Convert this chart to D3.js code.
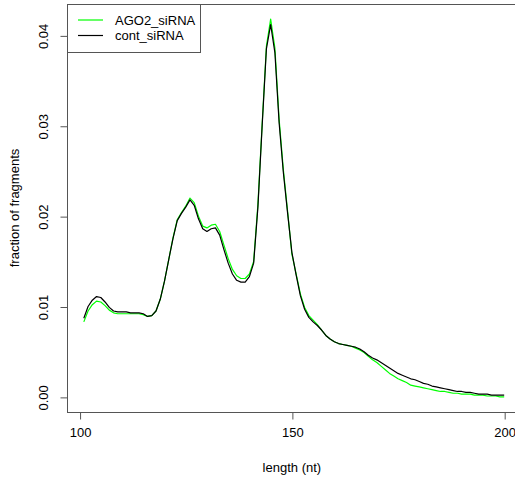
<!DOCTYPE html>
<html>
<head>
<meta charset="utf-8">
<script src="https://cdn.jsdelivr.net/npm/d3@7"></script>
<style>
  body { margin: 0; background: #fff; }
  svg text { font-family: "Liberation Sans", Arial, sans-serif; fill: #000; }
</style>
</head>
<body>
<div id="chart"></div>
<script>
// fragment lengths (nt)
const lengths = d3.range(101, 201);

// fraction of fragments, AGO2 knockdown
const ago2 = [
  0.0083, 0.0095, 0.0102, 0.0106, 0.0105, 0.0101, 0.0096, 0.0093, 0.0092, 0.0092, // 101-110
  0.0092, 0.0092, 0.0092, 0.0092, 0.0091, 0.0089, 0.0090, 0.0095, 0.0108, 0.0128, // 111-120
  0.0152, 0.0176, 0.0196, 0.0204, 0.0211, 0.0220, 0.0215, 0.0200, 0.0189, 0.0187, // 121-130
  0.0190, 0.0191, 0.0183, 0.0168, 0.0153, 0.0141, 0.0134, 0.0131, 0.0131, 0.0136, // 131-140
  0.0150, 0.0213, 0.0302, 0.0388, 0.0418, 0.0386, 0.0307, 0.0251, 0.0205, 0.0158, // 141-150
  0.0136, 0.0114, 0.0099, 0.0090, 0.0085, 0.0080, 0.0074, 0.0068, 0.0064, 0.0061, // 151-160
  0.0059, 0.0058, 0.0057, 0.0056, 0.0054, 0.0052, 0.0049, 0.0045, 0.0041, 0.0038, // 161-170
  0.0034, 0.0030, 0.0026, 0.0023, 0.0020, 0.0018, 0.0016, 0.0013, 0.0012, 0.0011, // 171-180
  0.0010, 0.0009, 0.0008, 0.0007, 0.0006, 0.0006, 0.0005, 0.0004, 0.0004, 0.0003, // 181-190
  0.0003, 0.0003, 0.0002, 0.0002, 0.0002, 0.0001, 0.0001, 0.0001, 0.0000, 0.0000  // 191-200
];

// fraction of fragments, control
const cont = [
  0.0087, 0.0100, 0.0107, 0.0111, 0.0110, 0.0105, 0.0099, 0.0095, 0.0094, 0.0094,
  0.0094, 0.0093, 0.0093, 0.0093, 0.0092, 0.0089, 0.0090, 0.0095, 0.0108, 0.0128,
  0.0152, 0.0175, 0.0195, 0.0203, 0.0210, 0.0218, 0.0212, 0.0197, 0.0186, 0.0183,
  0.0186, 0.0187, 0.0179, 0.0163, 0.0148, 0.0136, 0.0129, 0.0127, 0.0127, 0.0133,
  0.0148, 0.0210, 0.0300, 0.0385, 0.0412, 0.0381, 0.0303, 0.0248, 0.0203, 0.0160,
  0.0135, 0.0112, 0.0097, 0.0088, 0.0083, 0.0079, 0.0074, 0.0068, 0.0064, 0.0061,
  0.0059, 0.0058, 0.0057, 0.0056, 0.0055, 0.0053, 0.0050, 0.0046, 0.0043, 0.0041,
  0.0038, 0.0035, 0.0032, 0.0029, 0.0026, 0.0024, 0.0022, 0.0020, 0.0019, 0.0017,
  0.0015, 0.0014, 0.0012, 0.0011, 0.0010, 0.0009, 0.0008, 0.0007, 0.0006, 0.0006,
  0.0005, 0.0005, 0.0004, 0.0003, 0.0003, 0.0003, 0.0002, 0.0002, 0.0002, 0.0002
];

const xTicks = [100, 150, 200];
const yTicks = [0, 0.01, 0.02, 0.03, 0.04];
const seriesNames = ["AGO2_siRNA", "cont_siRNA"];
const seriesColors = ["#00ff00", "#000000"];

const W = 515, H = 478;
// plot region, R style (right edge falls just outside the window)
const pLeft = 67, pTop = 4, pBottom = 412, pRight = 521;

const svg = d3.select("#chart").append("svg")
    .attr("width", W)
    .attr("height", H);

// R pads the data range by 4% on each side
const xExt = d3.extent(lengths);
const xPad = (xExt[1] - xExt[0]) * 0.04;
const x = d3.scaleLinear()
    .domain([xExt[0] - xPad, xExt[1] + xPad])
    .range([pLeft, pRight]);

const allY = ago2.concat(cont);
const yExt = d3.extent(allY);
const yPad = (yExt[1] - yExt[0]) * 0.04;
const y = d3.scaleLinear()
    .domain([yExt[0] - yPad, yExt[1] + yPad])
    .range([pBottom, pTop]);

// lines
const line = d3.line()
    .x((d, i) => x(lengths[i]))
    .y(d => y(d));

[ago2, cont].forEach((s, k) => {
  svg.append("path")
     .datum(s)
     .attr("d", line)
     .attr("fill", "none")
     .attr("stroke", seriesColors[k])
     .attr("stroke-width", 1.2)
     .attr("stroke-linejoin", "round");
});

// box
svg.append("rect")
   .attr("x", pLeft + 0.5)
   .attr("y", pTop + 0.5)
   .attr("width", pRight - pLeft)
   .attr("height", pBottom - pTop)
   .attr("fill", "none")
   .attr("stroke", "#555")
   .attr("stroke-width", 1);

// x axis
const xAxis = svg.append("g")
    .attr("transform", `translate(0.5,${pBottom + 0.5})`)
    .call(d3.axisBottom(x).tickValues(xTicks).tickSize(7).tickPadding(8).tickFormat(d3.format("d")));
xAxis.select(".domain")
    .attr("d", `M${x(xTicks[0])},0H${x(xTicks[xTicks.length - 1])}`)
    .attr("stroke", "#555");
xAxis.selectAll(".tick line").attr("stroke", "#555");
xAxis.selectAll("text")
    .attr("font-size", 13)
    .attr("fill", "#000")
    .attr("font-family", "Liberation Sans, Arial, sans-serif");

// y axis
const yAxis = svg.append("g")
    .attr("transform", `translate(${pLeft + 0.5},0.5)`)
    .call(d3.axisLeft(y).tickValues(yTicks).tickSize(7).tickFormat(d3.format(".2f")));
yAxis.select(".domain")
    .attr("d", `M0,${y(yTicks[0])}V${y(yTicks[yTicks.length - 1])}`)
    .attr("stroke", "#555");
yAxis.selectAll(".tick line").attr("stroke", "#555");
yAxis.selectAll("text")
    .attr("font-size", 13)
    .attr("fill", "#000")
    .attr("font-family", "Liberation Sans, Arial, sans-serif")
    .attr("x", null)
    .attr("dy", null)
    .attr("text-anchor", "middle")
    .attr("transform", `translate(-20,0) rotate(-90)`);

// axis titles
svg.append("text")
   .attr("x", x(150))
   .attr("y", 472)
   .attr("text-anchor", "middle")
   .attr("font-size", 13)
   .text("length (nt)");

svg.append("text")
   .attr("transform", `translate(19,${(pTop + pBottom) / 2}) rotate(-90)`)
   .attr("text-anchor", "middle")
   .attr("font-size", 13)
   .text("fraction of fragments");

// legend
const legend = svg.append("g");
legend.append("rect")
   .attr("x", pLeft + 0.5)
   .attr("y", pTop + 0.5)
   .attr("width", 133)
   .attr("height", 48)
   .attr("fill", "#fff")
   .attr("stroke", "#555");

seriesNames.forEach((name, k) => {
  const ly = 20 + k * 15.5;
  legend.append("line")
     .attr("x1", 78).attr("x2", 103)
     .attr("y1", ly).attr("y2", ly)
     .attr("stroke", seriesColors[k])
     .attr("stroke-width", 1.2);
  legend.append("text")
     .attr("x", 115)
     .attr("y", ly)
     .attr("dy", "0.35em")
     .attr("font-size", 13)
     .text(name);
});
</script>
</body>
</html>
